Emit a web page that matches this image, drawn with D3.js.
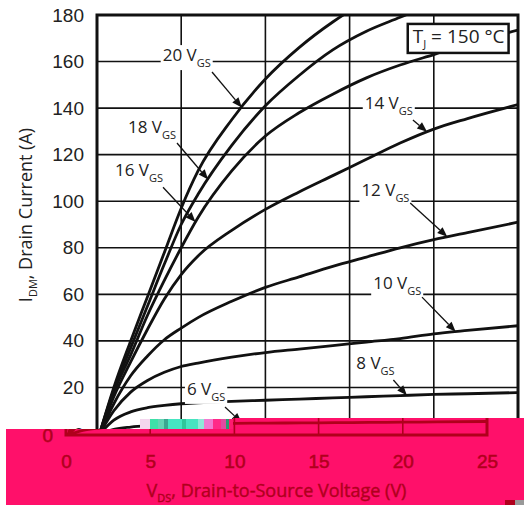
<!DOCTYPE html>
<html>
<head>
<meta charset="utf-8">
<script src="https://cdn.jsdelivr.net/npm/d3@7"></script>
<style>
  body { margin: 0; background: #fff; }
</style>
</head>
<body>
<svg id="chart" width="524" height="505"></svg>
<script>
// drain voltage grid shared by all curves (V)
const vds = [0.15, 1, 2, 3, 4, 5, 6, 8, 10, 12, 14, 16, 18, 20, 22, 25];
const vgsLevels = [20, 18, 16, 14, 12, 10, 8, 6];
// drain current for each gate voltage (A)
const id20 = [0, 20, 40, 59, 78, 97, 113, 135, 152.5, 166, 177, 186, 193, 199, 204, 210];
const id18 = [0, 19, 37, 55, 73, 90, 103, 124, 141, 154, 165, 173, 179, 185, 190, 196];
const id16 = [0, 18, 34, 51, 66, 80, 93, 113, 128, 138, 146, 153, 158.5, 163, 167.5, 173.5];
const id14 = [0, 16, 31, 45, 58, 68.5, 76.5, 87.5, 96.5, 104, 111, 118, 125, 131, 135.5, 141.5];
const id12 = [0, 13, 25, 33.5, 40.5, 45.5, 50, 57, 63, 67.5, 72, 76, 80, 83.5, 86.5, 91];
const id10 = [0, 10, 18, 23, 26.5, 29, 30.5, 33, 35, 36.5, 38, 39.5, 41, 43, 44.5, 46.5];
const id8 = [0, 6, 9.5, 11.3, 12.3, 13, 13.4, 14, 14.5, 15, 15.5, 16, 16.5, 17, 17.3, 17.8];
const id6 = [0, 2, 3, 3.6, 4, 4.3, 4.5, 4.8, 5, 5.1, 5.2, 5.3, 5.4, 5.5, 5.6, 5.8];
const currents = [id20, id18, id16, id14, id12, id10, id8, id6];

const xTicks = [0, 5, 10, 15, 20, 25];
const yTicks = [0, 20, 40, 60, 80, 100, 120, 140, 160, 180];

// curve labels: text baseline (V, A), arrow tail (V, A), arrow tip voltage
const labelV = [3.9, 1.84, 1.07, 15.9, 15.7, 16.4, 15.4, 5.34];
const labelI = [160.2, 129.3, 110.8, 139.6, 102.2, 62.3, 27.9, 16.8];
const tailV = [6.83, 4.75, 3.92, 18.76, 18.6, 19.3, 17.6, 7.6];
const tailI = [155.5, 125, 106, 134.9, 99.2, 58.8, 23.2, 11.6];
const tipV = [8.6, 6.6, 5.85, 19.6, 20.8, 21.3, 18.4, 8.6];

const svg = d3.select("#chart");
const x = d3.scaleLinear().domain([0, 25]).range([97, 518]);
const y = d3.scaleLinear().domain([0, 180]).range([434, 15]);

const labelFont = "'Open Sans', 'Noto Sans', sans-serif";
const tickFont = "'Liberation Sans', Arial, sans-serif";

const magenta = "#ff106a";
const darkRed = "#b0001c";

const defs = svg.append("defs");
defs.append("clipPath").attr("id", "plotClip")
  .append("rect").attr("x", x(0)).attr("y", y(180))
  .attr("width", x(25) - x(0)).attr("height", y(0) - y(180));

// the corrupted band at the bottom of the picture
const bandPoints = [[6, 429], [233, 429], [233, 418], [524, 418], [524, 505], [6, 505]];
defs.append("clipPath").attr("id", "bandClip")
  .append("polygon").attr("points", bandPoints.map(p => p.join(",")).join(" "));

function drawPlot(root, ink) {
  // grid
  root.append("g").selectAll("line").data(xTicks.slice(1, -1)).join("line")
    .attr("x1", d => x(d)).attr("x2", d => x(d))
    .attr("y1", y(0)).attr("y2", y(180))
    .attr("stroke", ink).attr("stroke-width", 1.6);
  root.append("g").selectAll("line").data(yTicks.slice(1, -1)).join("line")
    .attr("x1", x(0)).attr("x2", x(25))
    .attr("y1", d => y(d)).attr("y2", d => y(d))
    .attr("stroke", ink).attr("stroke-width", 1.6);

  // curves
  const line = d3.line().x((d, i) => x(vds[i])).y(d => y(d)).curve(d3.curveMonotoneX);
  root.append("g").attr("clip-path", "url(#plotClip)")
    .selectAll("path").data(currents).join("path")
    .attr("d", line)
    .attr("fill", "none").attr("stroke", ink).attr("stroke-width", 2.8);

  // frame
  root.append("rect")
    .attr("x", x(0)).attr("y", y(180))
    .attr("width", x(25) - x(0)).attr("height", y(0) - y(180))
    .attr("fill", "none").attr("stroke", ink).attr("stroke-width", 3);
}

function drawYTicks(root, ink, values) {
  const yAxis = root.append("g").attr("transform", `translate(${x(0)},0)`)
    .call(d3.axisLeft(y).tickValues(values).tickSize(0).tickPadding(13));
  yAxis.select(".domain").remove();
  yAxis.selectAll("text").attr("fill", ink)
    .style("font-family", tickFont).style("font-size", "19px");
  return yAxis;
}

// ---- normal chart ----
const main = svg.append("g");
drawPlot(main, "#111");
drawYTicks(main, "#222", yTicks);

const yTitle = main.append("text")
  .attr("transform", "translate(32,215) rotate(-90)")
  .attr("text-anchor", "middle").attr("fill", "#222")
  .style("font-family", labelFont).style("font-size", "18px");
yTitle.append("tspan").text("I");
yTitle.append("tspan").attr("dy", 5).style("font-size", "11px").text("DM");
yTitle.append("tspan").attr("dy", -5).text(", Drain Current (A)");

// curve labels with arrows
vgsLevels.forEach((v, i) => {
  const g = main.append("g");
  const bg = g.append("rect").attr("fill", "#fff");
  const t = g.append("text")
    .attr("x", x(labelV[i])).attr("y", y(labelI[i]))
    .attr("fill", "#222")
    .style("font-family", labelFont).style("font-size", "17px");
  t.append("tspan").text(v + " V");
  t.append("tspan").attr("dy", 6).style("font-size", "11px").text("GS");
  const bb = t.node().getBBox();
  bg.attr("x", bb.x - 2).attr("y", bb.y + 2)
    .attr("width", bb.width + 4).attr("height", bb.height - 2);

  const onCurve = d3.scaleLinear().domain(vds).range(currents[i]);
  const x0 = x(tailV[i]), y0 = y(tailI[i]);
  const x1 = x(tipV[i]), y1 = y(onCurve(tipV[i]));
  const ang = Math.atan2(y1 - y0, x1 - x0);
  const hl = 10, hw = 4;
  const bx = x1 - hl * Math.cos(ang), by = y1 - hl * Math.sin(ang);
  g.append("line")
    .attr("x1", x0).attr("y1", y0).attr("x2", bx).attr("y2", by)
    .attr("stroke", "#111").attr("stroke-width", 1.3);
  g.append("polygon")
    .attr("points", [
      [x1, y1],
      [bx + hw * Math.sin(ang), by - hw * Math.cos(ang)],
      [bx - hw * Math.sin(ang), by + hw * Math.cos(ang)]
    ].map(p => p.join(",")).join(" "))
    .attr("fill", "#111");
});

// junction temperature box
const tj = main.append("g");
const tjBg = tj.append("rect").attr("fill", "#fff").attr("stroke", "#111").attr("stroke-width", 2.5);
const tjText = tj.append("text")
  .attr("x", x(18.75)).attr("y", y(168)).attr("fill", "#222")
  .style("font-family", labelFont).style("font-size", "19px");
tjText.append("tspan").text("T");
tjText.append("tspan").attr("dy", 5).style("font-size", "11px").text("J");
tjText.append("tspan").attr("dy", -5).text(" = 150 \u00B0C");
const tb = tjText.node().getBBox();
tjBg.attr("x", tb.x - 5).attr("y", tb.y + 1)
  .attr("width", tb.width + 9).attr("height", tb.height + 1);

// ---- magenta band with a shifted, dark red copy of the chart bottom ----
svg.append("polygon")
  .attr("points", bandPoints.map(p => p.join(",")).join(" "))
  .attr("fill", magenta);
const band = svg.append("g").attr("clip-path", "url(#bandClip)")
  .append("g").attr("transform", "translate(-31,1)");
drawPlot(band, darkRed);
drawYTicks(band, darkRed, [0]).selectAll("text")
  .attr("stroke", darkRed).attr("stroke-width", 0.5);

const xAxis = band.append("g").attr("transform", `translate(0,${y(0)})`)
  .call(d3.axisBottom(x).tickValues(xTicks).tickSize(0).tickPadding(20));
xAxis.select(".domain").remove();
xAxis.selectAll("text").attr("fill", darkRed)
  .attr("stroke", darkRed).attr("stroke-width", 0.5)
  .style("font-family", tickFont).style("font-size", "19px");

const xTitle = band.append("text")
  .attr("x", (x(0) + x(25)) / 2).attr("y", 496)
  .attr("text-anchor", "middle").attr("fill", darkRed)
  .attr("stroke", darkRed).attr("stroke-width", 0.4)
  .style("font-family", labelFont).style("font-size", "18px");
xTitle.append("tspan").text("V");
xTitle.append("tspan").attr("dy", 5).style("font-size", "11px").text("DS");
xTitle.append("tspan").attr("dy", -5).text(", Drain-to-Source Voltage (V)");

// noisy strip left of the band
const glitchColors = ["#f4d6ee", "#3ee0a8", "#62d4b4", "#3aa890", "#46e6c2", "#2fc79a", "#48e4c0",
  "#8fe8d8", "#f07ad0", "#ff2a88", "#e04aa0", "#2a9a70", "#ff1a70"];
const glitchWidths = [10, 8, 6, 4, 14, 4, 12, 6, 9, 8, 5, 3, 4];
let gx = 140;
svg.append("g").selectAll("rect").data(glitchColors).join("rect")
  .attr("x", (d, i) => { const v = gx; gx += glitchWidths[i]; return v; })
  .attr("y", 419).attr("width", (d, i) => glitchWidths[i]).attr("height", 10)
  .attr("fill", d => d);

// tiny specks in the corner
svg.append("rect").attr("x", 505).attr("y", 500).attr("width", 10).attr("height", 5).attr("fill", darkRed);
svg.append("rect").attr("x", 515).attr("y", 500).attr("width", 9).attr("height", 5).attr("fill", "#999");
</script>
</body>
</html>
